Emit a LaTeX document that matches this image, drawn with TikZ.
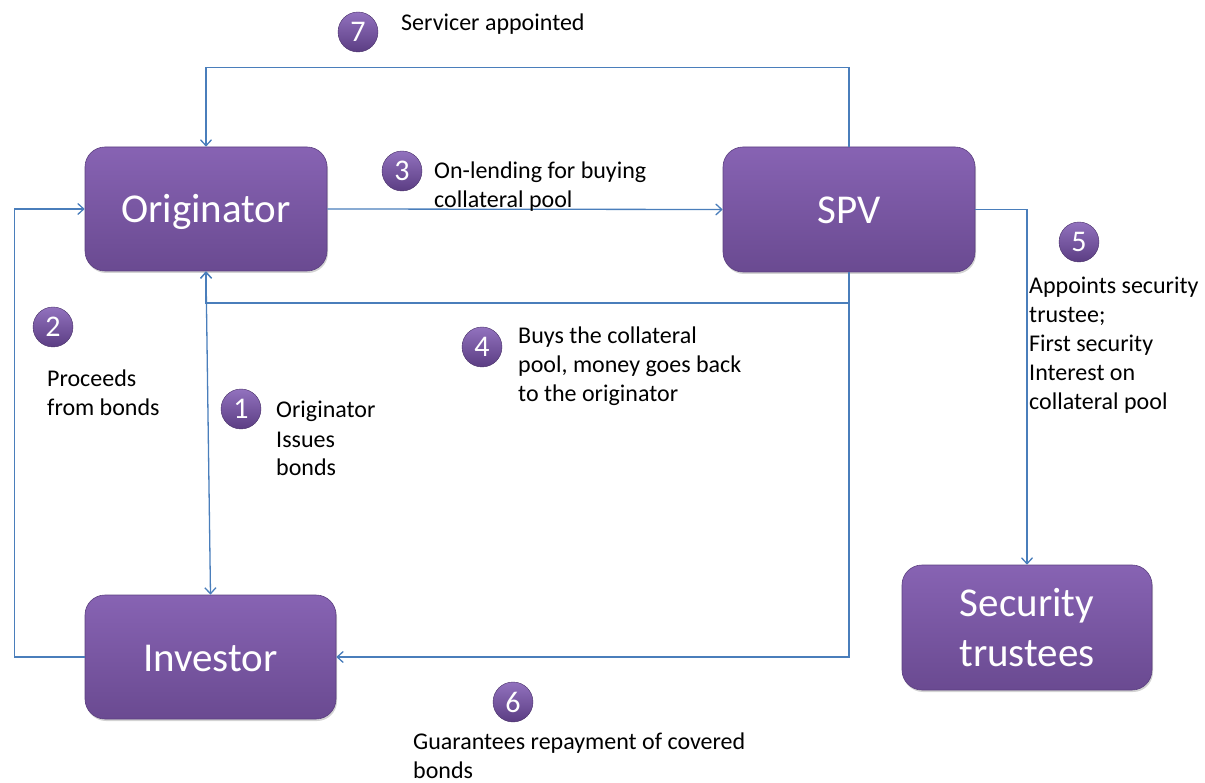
\documentclass[tikz,border=0pt]{standalone}
\usepackage{fontspec}
\setmainfont{Carlito}
\usetikzlibrary{arrows.meta,shadows}
\newcommand\mylines[1]{\begin{tabular}[t]{@{}l@{}}#1\end{tabular}}
\definecolor{linkblue}{HTML}{4A7EBB}
\definecolor{boxtop}{HTML}{8763B3}
\definecolor{boxbot}{HTML}{6A4A91}
\definecolor{boxedge}{HTML}{5C4080}
\definecolor{numtop}{HTML}{9272BE}
\definecolor{numbot}{HTML}{5B3D83}
\begin{document}
\begin{tikzpicture}[x=1pt,y=-1pt,
  box/.style={rectangle, rounded corners=20pt, top color=boxtop, bottom color=boxbot,
    draw=boxedge, line width=0.6pt, text=white, align=center,
    font=\fontsize{41}{50}\selectfont, inner sep=0pt,
    drop shadow={shadow xshift=1pt, shadow yshift=-2pt, opacity=0.35}},
  oneline/.style={text height=32pt, text depth=4pt},
  num/.style={circle, top color=numtop, bottom color=numbot, draw=numbot!80!black,
    line width=0.4pt, minimum size=40pt, inner sep=0pt, text=white,
    font=\fontsize{30}{36}\selectfont},
  lbl/.style={anchor=base west, inner sep=0pt, font=\fontsize{24}{29}\selectfont},
  conn/.style={draw=linkblue, line width=1.3pt},
  tip/.style={-{Straight Barb[length=6pt,width=11pt]}}
]
\useasboundingbox (0,0) rectangle (1205,783);

% boxes
\node[box, oneline, minimum width=242pt, minimum height=124pt] (orig) at (206,209) {Originator};
\node[box, oneline, minimum width=252pt, minimum height=125pt] (spv) at (849,209.5) {SPV};
\node[box, oneline, minimum width=251pt, minimum height=124pt] (inv) at (210.5,657) {Investor};
\node[box, minimum width=250pt, minimum height=125pt] (trust) at (1027,627.5) {Security\\trustees};

% connectors
\draw[conn,tip] (spv.north) -- ++(0,-79) coordinate (c7) -| (orig.north);
\draw[conn,tip] (orig.east) -- (spv.west);
\draw[conn,tip] (spv.east) -| (trust.north);
\draw[conn,tip] (inv.west) -- ++(-70,0) coordinate (c2) |- (orig.west);
\draw[conn,tip] (spv.south) |- (inv.east);
\coordinate (j4) at (849,303);
\draw[conn,tip] (j4) -| (orig.south);
\draw[conn,{Straight Barb[length=6pt,width=11pt]}-{Straight Barb[length=6pt,width=11pt]}] (orig.south) -- (inv.north);

% number circles
\node[num] (n7) at (358,32) {7};
\node[num] (n3) at (402,171) {3};
\node[num] (n5) at (1079,242) {5};
\node[num] (n2) at (53,327) {2};
\node[num] (n4) at (482,347) {4};
\node[num] (n1) at (241,409) {1};
\node[num] (n6) at (513,702) {6};

% labels
\node[lbl] (t7) at (401,31) {Servicer appointed};
\node[lbl] (t3) at (434,179) {\mylines{On-lending for buying\\collateral pool}};
\node[lbl] (t5) at (1029,294) {\mylines{Appoints security\\trustee;\\First security\\Interest on\\collateral pool}};
\node[lbl] (t2) at (47,387) {\mylines{Proceeds\\from bonds}};
\node[lbl] (t4) at (518,344) {\mylines{Buys the collateral\\pool, money goes back\\to the originator}};
\node[lbl] (t1) at (276,418) {\mylines{Originator\\Issues\\bonds}};
\node[lbl] (t6) at (413,749) {\mylines{Guarantees repayment of covered\\bonds}};
\end{tikzpicture}
\end{document}
